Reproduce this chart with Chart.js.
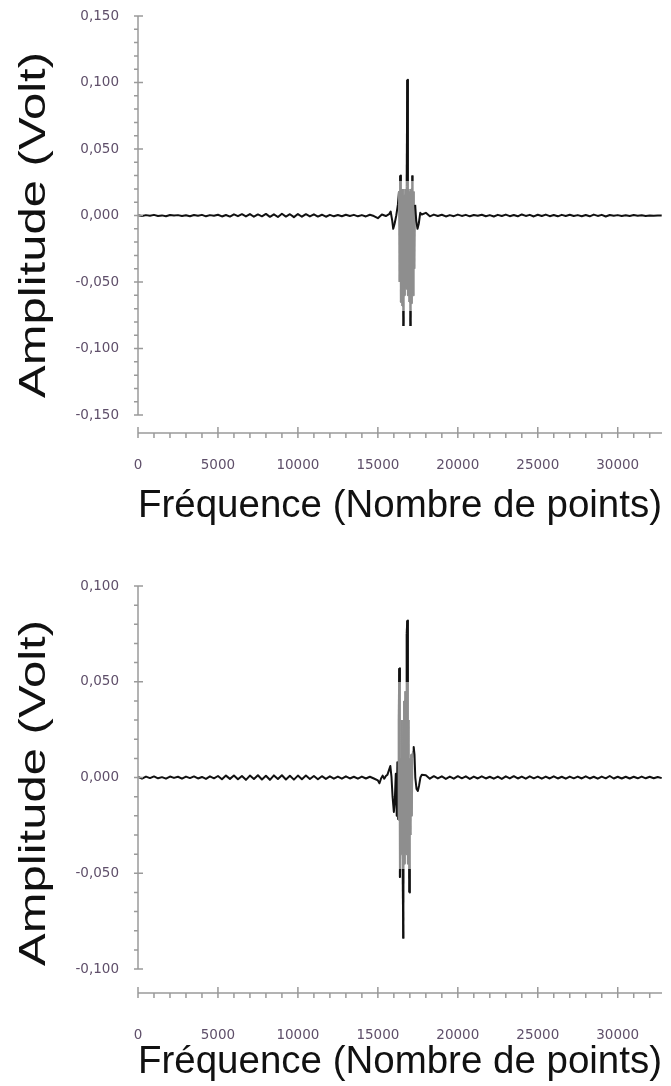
<!DOCTYPE html>
<html lang="fr">
<head>
<meta charset="utf-8">
<title>Amplitude (Volt)</title>
<script src="https://cdn.jsdelivr.net/npm/chart.js@4.4.1/dist/chart.umd.min.js"></script>
<style>
  html, body { margin: 0; padding: 0; background: #fff; }
  canvas { display: block; }
</style>
</head>
<body>
<canvas id="signal-1" width="671" height="545"></canvas>
<canvas id="signal-2" width="671" height="541"></canvas>
<script>
// ---- data ----
const X_MAX = 32768;
const NOISE_STEP = 250;

const xMajor = [0, 5000, 10000, 15000, 20000, 25000, 30000];
const xLabels = ["0", "5000", "10000", "15000", "20000", "25000", "30000"];

const yMajor1 = [0.15, 0.1, 0.05, 0, -0.05, -0.1, -0.15];
const yLabels1 = ["0,150", "0,100", "0,050", "0,000", "-0,050", "-0,100", "-0,150"];
const yMajor2 = [0.1, 0.05, 0, -0.05, -0.1];
const yLabels2 = ["0,100", "0,050", "0,000", "-0,050", "-0,100"];

// chart 1 : baseline noise before the burst (x = 0, 250, 500 ...)
const left1 = [
  0.0002, -0.0004, 0.0003, -0.0001, 0.0005, -0.0003, 0.0001, -0.0005, 0.0004, 0.0000,
  0.0003, -0.0004, 0.0002, -0.0005, 0.0004, -0.0002, 0.0005, -0.0006, 0.0003, -0.0002,
  0.0006, -0.0007, 0.0004, -0.0008, 0.0009, -0.0005, 0.0010, -0.0007, 0.0011, -0.0009,
  0.0008, -0.0006, 0.0012, -0.0010, 0.0009, -0.0011, 0.0013, -0.0008, 0.0010, -0.0012,
  0.0011, -0.0009, 0.0010, -0.0007, 0.0009, -0.0008, 0.0006, -0.0009, 0.0005, -0.0006,
  0.0004, -0.0005, 0.0006, -0.0003, 0.0005, -0.0006, 0.0003, -0.0007, 0.0006, -0.0004,
  -0.0020, 0.0008, -0.0004
];
const burst1X = [
  15700, 15800, 15900, 15960, 16050, 16150, 16250,
  16320, 16360, 16400, 16440, 16480, 16520, 16560, 16600, 16640, 16680, 16720, 16760,
  16800, 16840, 16880, 16920, 16960, 17000, 17040, 17080, 17120, 17160, 17200, 17240, 17280,
  17330, 17400, 17480, 17560, 17650
];
const burst1Y = [
  0.0010, 0.0030, -0.0040, -0.0100, -0.0060, 0.0000, 0.0080,
  0.0180, -0.0500, 0.0300, -0.0650, 0.0200, -0.0680, 0.0200, -0.0830, 0.0150, -0.0600, 0.0200, -0.0550,
  0.0220, 0.1020, -0.0600, 0.0200, -0.0650, 0.0180, -0.0830, 0.0200, -0.0660, 0.0300, -0.0600, 0.0180, -0.0400,
  0.0080, -0.0040, -0.0100, -0.0060, 0.0020
];
const right1Start = 17750;
const right1 = [
  0.0008, 0.0020, -0.0006, 0.0007, -0.0004, 0.0006, -0.0007, 0.0003, -0.0005, 0.0007,
  -0.0003, 0.0005, -0.0006, 0.0004, -0.0002, 0.0006, -0.0005, 0.0003, -0.0007, 0.0005,
  -0.0004, 0.0007, -0.0005, 0.0004, -0.0006, 0.0008, -0.0003, 0.0005, -0.0007, 0.0006,
  -0.0004, 0.0007, -0.0005, 0.0004, -0.0006, 0.0005, -0.0003, 0.0006, -0.0004, 0.0003,
  -0.0005, 0.0004, -0.0006, 0.0007, -0.0003, 0.0005, -0.0007, 0.0004, -0.0002, 0.0003,
  -0.0004, 0.0002, -0.0003, 0.0004, -0.0001, 0.0002, -0.0003, 0.0001, -0.0002, 0.0001,
  0.0000
];

// chart 2
const left2 = [
  0.0003, -0.0006, 0.0005, -0.0003, 0.0006, -0.0004, 0.0002, -0.0006, 0.0005, -0.0002,
  0.0004, -0.0006, 0.0005, -0.0003, 0.0006, -0.0005, 0.0003, -0.0007, 0.0006, -0.0004,
  0.0008, -0.0009, 0.0010, -0.0007, 0.0011, -0.0009, 0.0008, -0.0012, 0.0010, -0.0008,
  0.0012, -0.0010, 0.0009, -0.0012, 0.0011, -0.0008, 0.0012, -0.0010, 0.0009, -0.0011,
  0.0010, -0.0009, 0.0010, -0.0008, 0.0008, -0.0009, 0.0007, -0.0007, 0.0006, -0.0006,
  0.0005, -0.0006, 0.0006, -0.0005, 0.0004, -0.0006, 0.0005, -0.0005, 0.0004, -0.0005
];
const burst2X = [
  15000, 15100, 15200, 15300, 15400, 15500, 15600, 15700, 15780, 15850, 15920, 16000, 16060, 16120, 16180,
  16220, 16260, 16300, 16340, 16380, 16420, 16460, 16500, 16540, 16590, 16640, 16680, 16720, 16760,
  16800, 16840, 16880, 16920, 16960, 17000, 17040, 17080, 17120, 17160, 17200,
  17240, 17290, 17340, 17420, 17500, 17580, 17660, 17750
];
const burst2Y = [
  -0.0015, -0.0030, -0.0005, 0.0010, -0.0006, 0.0008, 0.0015, 0.0040, 0.0060, 0.0005, -0.0100, -0.0180, -0.0120, 0.0020, -0.0200,
  0.0080, -0.0220, 0.0300, 0.0570, -0.0520, 0.0100, -0.0400, 0.0300, -0.0400, -0.0840, 0.0400, -0.0450, 0.0450, -0.0400,
  0.0750, 0.0820, -0.0450, 0.0300, -0.0600, 0.0100, -0.0300, 0.0120, -0.0200, 0.0100, 0.0140,
  0.0160, 0.0120, 0.0000, -0.0060, -0.0070, -0.0040, 0.0000, 0.0015
];
const right2Start = 18000;
const right2 = [
  0.0012, -0.0006, 0.0007, -0.0005, 0.0006, -0.0007, 0.0005, -0.0006, 0.0007, -0.0004,
  0.0006, -0.0007, 0.0005, -0.0005, 0.0006, -0.0005, 0.0004, -0.0006, 0.0005, -0.0007,
  0.0006, -0.0005, 0.0007, -0.0005, 0.0005, -0.0006, 0.0006, -0.0004, 0.0005, -0.0006,
  0.0005, -0.0005, 0.0006, -0.0005, 0.0004, -0.0006, 0.0005, -0.0004, 0.0005, -0.0005,
  0.0006, -0.0005, 0.0004, -0.0006, 0.0005, -0.0004, 0.0008, -0.0005, 0.0004, -0.0005,
  0.0004, -0.0005, 0.0004, -0.0004, 0.0005, -0.0004, 0.0004, -0.0004, 0.0003, -0.0003
];

// ---- styling ----
const LINE_COLOR = "#111111";
const BURST_GRAY = "#8e8e8e";
const AXIS_COLOR = "#9a9a9a";
const TICK_COLOR = "#5f4f6a";
const TITLE_FONT = "Liberation Sans";

function buildPoints(left, bx, by, right, rightStart) {
  const pts = left.map((v, i) => ({ x: i * NOISE_STEP, y: v }));
  bx.forEach((x, i) => pts.push({ x, y: by[i] }));
  right.forEach((v, i) => pts.push({ x: rightStart + i * NOISE_STEP, y: v }));
  return pts;
}

function isMajor(value, majors) {
  return majors.some(m => Math.abs(m - value) < 1e-7);
}

function labelFor(value, majors, labels) {
  const i = majors.findIndex(m => Math.abs(m - value) < 1e-7);
  return i >= 0 ? labels[i] : "";
}

// dense oscillations render gray, their tips black
function burstColor(range, hi, lo) {
  return ctx => {
    const a = ctx.p0.parsed.x, b = ctx.p1.parsed.x;
    if (a < range[0] || b > range[1]) return undefined;
    const chart = ctx.chart;
    const area = chart.chartArea;
    const y = chart.scales.y;
    const tHi = (y.getPixelForValue(hi) - area.top) / area.height;
    const tLo = (y.getPixelForValue(lo) - area.top) / area.height;
    const g = chart.ctx.createLinearGradient(0, area.top, 0, area.bottom);
    g.addColorStop(0, LINE_COLOR);
    g.addColorStop(tHi, LINE_COLOR);
    g.addColorStop(tHi, BURST_GRAY);
    g.addColorStop(tLo, BURST_GRAY);
    g.addColorStop(tLo, LINE_COLOR);
    g.addColorStop(1, LINE_COLOR);
    return g;
  };
}

function noPadding(s) {
  s.paddingTop = 0;
  s.paddingBottom = 0;
  s.paddingLeft = 0;
  s.paddingRight = 0;
}

const axesPlugin = {
  id: "axes",
  afterDraw(chart, args, o) {
    const { ctx, chartArea, scales: { x, y } } = chart;
    const ax = x.getPixelForValue(0);
    const by = chartArea.bottom;
    ctx.save();
    ctx.strokeStyle = AXIS_COLOR;
    ctx.lineWidth = 1.5;
    ctx.beginPath();
    ctx.moveTo(ax, y.getPixelForValue(o.yTo));
    ctx.lineTo(ax, y.getPixelForValue(o.yFrom));
    y.ticks.forEach(t => {
      if (t.value < o.yFrom - 1e-7 || t.value > o.yTo + 1e-7) return;
      const py = y.getPixelForValue(t.value);
      ctx.moveTo(ax - 4, py);
      ctx.lineTo(ax + (isMajor(t.value, o.yMajor) ? 5 : 0), py);
    });
    ctx.moveTo(ax, by);
    ctx.lineTo(x.getPixelForValue(X_MAX), by);
    x.ticks.forEach(t => {
      const px = x.getPixelForValue(t.value);
      ctx.moveTo(px, by - (isMajor(t.value, xMajor) ? 6 : 0));
      ctx.lineTo(px, by + 5);
    });
    ctx.stroke();

    // vertical title, stretched along its length as in the source
    ctx.font = `${o.titleSize}px "${TITLE_FONT}"`;
    ctx.fillStyle = "#111";
    ctx.textAlign = "center";
    ctx.textBaseline = "alphabetic";
    const w = ctx.measureText(o.title).width;
    ctx.translate(o.titleX, o.titleY);
    ctx.rotate(-Math.PI / 2);
    ctx.scale(o.titleLen / w, 1);
    ctx.fillText(o.title, 0, 0);
    ctx.restore();
  }
};

function makeChart(id, cfg) {
  const yMinorTicks = [];
  for (let k = Math.round(cfg.yFrom * 100); k <= Math.round(cfg.yTo * 100); k++) yMinorTicks.push(k / 100);
  const xMinorTicks = [];
  for (let v = 0; v <= X_MAX; v += 1000) xMinorTicks.push(v);

  return new Chart(document.getElementById(id), {
    type: "line",
    data: {
      datasets: [{
        data: cfg.points,
        borderColor: LINE_COLOR,
        borderWidth: 2,
        borderJoinStyle: "round",
        pointRadius: 0,
        tension: 0,
        fill: false,
        segment: { borderColor: burstColor(cfg.burst, cfg.hi, cfg.lo) }
      }]
    },
    options: {
      responsive: false,
      animation: false,
      events: [],
      layout: { padding: cfg.padding },
      plugins: {
        legend: { display: false },
        tooltip: { enabled: false },
        axes: {
          yFrom: cfg.yFrom, yTo: cfg.yTo, yMajor: cfg.yMajor,
          title: "Amplitude (Volt)", titleSize: 37,
          titleX: 45, titleY: cfg.titleY, titleLen: 346
        }
      },
      scales: {
        x: {
          type: "linear",
          min: 0,
          max: X_MAX,
          grid: { display: false, drawTicks: false },
          border: { display: false },
          afterBuildTicks: s => { s.ticks = xMinorTicks.map(v => ({ value: v })); },
          afterFit: s => { s.height = cfg.xHeight; noPadding(s); },
          ticks: {
            autoSkip: false,
            maxRotation: 0,
            minRotation: 0,
            padding: cfg.xLabelPad,
            color: TICK_COLOR,
            font: { family: "DejaVu Sans", size: 13.5 },
            callback: (v, i, ticks) => labelFor(ticks[i].value, xMajor, xLabels)
          },
          title: {
            display: true,
            text: "Fréquence (Nombre de points)",
            color: "#111",
            font: { family: TITLE_FONT, size: 39 },
            padding: { top: 0, bottom: cfg.titlePad }
          }
        },
        y: {
          type: "linear",
          min: cfg.yMin,
          max: cfg.yTo,
          grid: { display: false, drawTicks: false },
          border: { display: false },
          afterBuildTicks: s => { s.ticks = yMinorTicks.map(v => ({ value: v })); },
          afterFit: s => { s.width = 138; noPadding(s); },
          ticks: {
            autoSkip: false,
            padding: 19,
            color: TICK_COLOR,
            font: { family: "DejaVu Sans", size: 13.5 },
            callback: (v, i, ticks) => labelFor(ticks[i].value, cfg.yMajor, cfg.yLabels)
          }
        }
      }
    },
    plugins: [axesPlugin]
  });
}

makeChart("signal-1", {
  points: buildPoints(left1, burst1X, burst1Y, right1, right1Start),
  burst: [16300, 17340], hi: 0.026, lo: -0.072,
  yFrom: -0.15, yTo: 0.15, yMin: -0.1635,
  yMajor: yMajor1, yLabels: yLabels1,
  padding: { top: 16, right: 9, bottom: 0, left: 0 },
  xHeight: 112, xLabelPad: 24, titlePad: 15, titleY: 225
});

makeChart("signal-2", {
  points: buildPoints(left2, burst2X, burst2Y, right2, right2Start),
  burst: [16250, 17210], hi: 0.05, lo: -0.048,
  yFrom: -0.1, yTo: 0.1, yMin: -0.1125,
  yMajor: yMajor2, yLabels: yLabels2,
  padding: { top: 41, right: 9, bottom: 0, left: 0 },
  xHeight: 93, xLabelPad: 34, titlePad: 0, titleY: 248
});
</script>
</body>
</html>
